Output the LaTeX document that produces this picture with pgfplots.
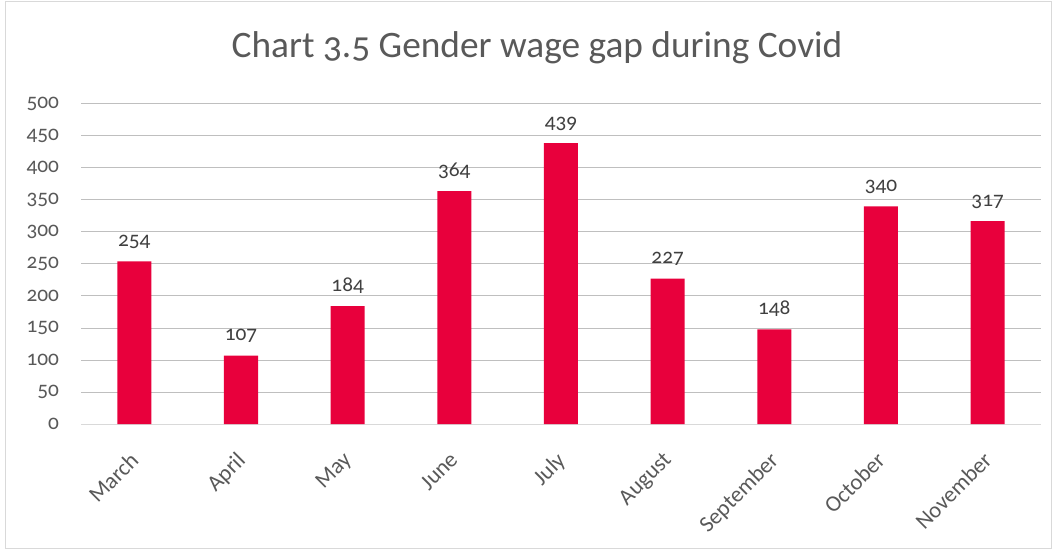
\documentclass[border=0pt]{standalone}
\usepackage{pgfplots}
\pgfplotsset{compat=1.18}
\usepackage{fontspec}
\setmainfont{Carlito}[Numbers=OldStyle]
\definecolor{barred}{HTML}{E8003C}
\definecolor{txt}{HTML}{595959}
\definecolor{grid}{HTML}{D9D9D9}
\begin{document}
\begin{tikzpicture}[x=0.75pt,y=0.75pt]
\path[use as bounding box] (0,0) rectangle (1056,550);
\draw[grid, line width=0.75pt] (5,2) rectangle (1051,548);
\node[txt, font=\fontsize{28}{32}\selectfont] at (537,502) {Chart 3.5 Gender wage gap during Covid};
\begin{axis}[
  at={(60.75pt,94.5pt)}, anchor=south west,
  scale only axis, width=720pt, height=240pt,
  ymin=0, ymax=500, ytick={0,50,...,500},
  xmin=-0.5, xmax=8.5,
  xtick={0,...,8},
  xticklabels={March,April,May,June,July,August,September,October,November},
  xticklabel style={rotate=45, anchor=north east, font=\fontsize{17}{19}\selectfont, color=txt, inner sep=2pt, xshift=-12pt, yshift=-6pt},
  yticklabel style={font=\fontsize{16}{18}\selectfont, color=txt, xshift=-13pt},
  /pgf/number format/assume math mode=true,
  axis line style={draw=none},
  tick style={draw=none},
  xmajorgrids=false,
  ymajorgrids=true, major grid style={grid, line width=0.75pt},
  ybar, bar width=25.5pt,
  nodes near coords,
  every node near coord/.append style={font=\fontsize{16}{18}\selectfont, color=black!75, yshift=6pt},
]
\draw[grid, line width=0.75pt] (axis cs:-0.5,0) -- (axis cs:8.5,0);
\addplot[fill=barred, draw=none] coordinates {(0,254) (1,107) (2,184) (3,364) (4,439) (5,227) (6,148) (7,340) (8,317)};
\end{axis}
\end{tikzpicture}
\end{document}
